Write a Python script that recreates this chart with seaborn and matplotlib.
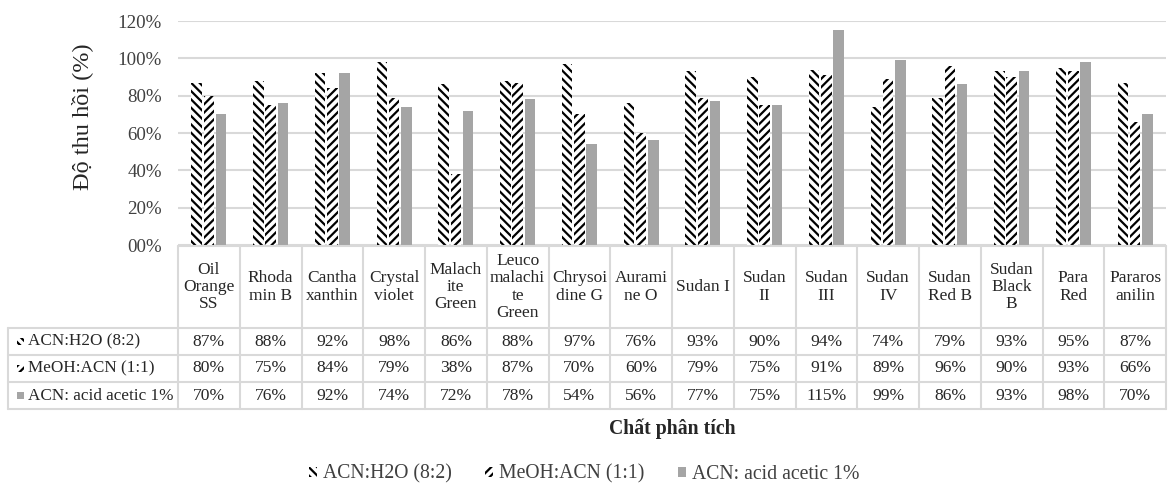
import matplotlib
matplotlib.use("Agg")
import matplotlib.pyplot as plt
from matplotlib.patches import Rectangle, Patch
from matplotlib.ticker import FuncFormatter
import pandas as pd
import seaborn as sns

# Recovery data for 16 dyes under three extraction solvents
categories = ["Oil Orange SS", "Rhodamin B", "Canthaxanthin", "Crystal violet",
              "Malachite Green", "Leucomalachite Green", "Chrysoidine G", "Auramine O",
              "Sudan I", "Sudan II", "Sudan III", "Sudan IV", "Sudan Red B",
              "Sudan Black B", "Para Red", "Pararosanilin"]
header_labels = ["Oil\nOrange\nSS", "Rhoda\nmin B", "Cantha\nxanthin", "Crystal\nviolet",
                 "Malach\nite\nGreen", "Leuco\nmalachi\nte\nGreen", "Chrysoi\ndine G", "Aurami\nne O",
                 "Sudan I", "Sudan\nII", "Sudan\nIII", "Sudan\nIV", "Sudan\nRed B",
                 "Sudan\nBlack\nB", "Para\nRed", "Pararos\nanilin"]
series = ["ACN:H2O (8:2)", "MeOH:ACN (1:1)", "ACN: acid acetic 1%"]
acn_h2o = [87, 88, 92, 98, 86, 88, 97, 76, 93, 90, 94, 74, 79, 93, 95, 87]
meoh_acn = [80, 75, 84, 79, 38, 87, 70, 60, 79, 75, 91, 89, 96, 90, 93, 66]
acn_acetic = [70, 76, 92, 74, 72, 78, 54, 56, 77, 75, 115, 99, 86, 93, 98, 70]
values = [acn_h2o, meoh_acn, acn_acetic]

sns.set_style("white")
plt.rcParams["font.family"] = ["Liberation Serif", "DejaVu Serif"]
plt.rcParams["hatch.linewidth"] = 1.6

df = pd.DataFrame({
    "cat": [c for _ in series for c in categories],
    "series": [s for s in series for _ in categories],
    "val": [v / 100 for vals in values for v in vals],
})

W, H = 1168, 495
fig = plt.figure(figsize=(W / 100, H / 100), dpi=100)
TXT = "#262626"

# plot area in pixel layout
x0, x1 = 178, 1166
y_top, y_base = 21, 245
ax = fig.add_axes([x0 / W, 1 - y_base / H, (x1 - x0) / W, (y_base - y_top) / H])

sns.barplot(data=df, x="cat", y="val", hue="series", order=categories, hue_order=series,
            palette=["white", "white", "#a5a5a5"], saturation=1, width=0.6, gap=0.15,
            legend=False, ax=ax)

styles = [dict(hatch="\\\\\\\\", edgecolor="black", facecolor="white"),
          dict(hatch="////", edgecolor="black", facecolor="white"),
          dict(hatch=None, edgecolor="#a5a5a5", facecolor="#a5a5a5")]
for cont, st in zip(ax.containers, styles):
    for bar in cont:
        bar.set_facecolor(st["facecolor"])
        bar.set_edgecolor(st["edgecolor"])
        bar.set_linewidth(0)
        if st["hatch"]:
            bar.set_hatch(st["hatch"])

ax.set_xlim(-0.5, len(categories) - 0.5)
ax.set_ylim(0, 1.2)
ax.set_yticks([0, 0.2, 0.4, 0.6, 0.8, 1.0, 1.2])
ax.yaxis.set_major_formatter(FuncFormatter(lambda v, p: f"{v * 100:02.0f}%"))
ax.tick_params(axis="y", length=0, labelsize=13.6, labelcolor="#404040", pad=11.5)
ax.set_xticks([])
ax.set_xlabel("")
ax.set_ylabel("")
ax.yaxis.grid(True, color="#d9d9d9", linewidth=1.5)
ax.set_axisbelow(True)
for sp in ax.spines.values():
    sp.set_visible(False)

fig.text(82 / W, 1 - 117 / H, "Độ thu hồi (%)", rotation=90, ha="center", va="center",
         fontsize=17.5, color=TXT)

# data table under the bars
t_left, t_top, t_bottom = 8, 246, 409
col_w = (x1 - x0) / len(categories)
label_w = (x0 - t_left) / col_w
tax = fig.add_axes([t_left / W, 1 - t_bottom / H, (x1 - t_left) / W, (t_bottom - t_top) / H])
tax.set_xlim(-0.5 - label_w, len(categories) - 0.5)
tax.set_ylim(t_bottom - t_top, 0)
tax.axis("off")

grid_c = "#d9d9d9"
head_h = 82
row_h = 27
ys = [0, head_h, head_h + row_h, head_h + 2 * row_h, head_h + 3 * row_h]
xl = -0.5 - label_w
xr = len(categories) - 0.5
tax.plot([-0.5, xr], [0, 0], color=grid_c, lw=1.5, clip_on=False)
for y in ys[1:]:
    tax.plot([xl, xr], [y, y], color=grid_c, lw=1.5, clip_on=False)
tax.plot([xl, xl], [head_h, ys[-1]], color=grid_c, lw=1.5, clip_on=False)
for k in range(len(categories) + 1):
    tax.plot([k - 0.5, k - 0.5], [0, ys[-1]], color=grid_c, lw=1.5, clip_on=False)

for i, lab in enumerate(header_labels):
    tax.text(i, head_h / 2, lab, ha="center", va="center", fontsize=12.5,
             linespacing=1.1, color=TXT)

for r, (name, vals, st) in enumerate(zip(series, values, styles)):
    yc = head_h + row_h * r + row_h / 2
    for i, v in enumerate(vals):
        tax.text(i, yc, f"{v}%", ha="center", va="center", fontsize=12.6, color=TXT)
    mx = xl + 9 / col_w
    tax.add_patch(Rectangle((mx, yc - 3.5), 7 / col_w, 7, facecolor=st["facecolor"],
                            edgecolor=st["edgecolor"], linewidth=0, hatch=st["hatch"],
                            clip_on=False))
    tax.text(xl + 20 / col_w, yc, name, ha="left", va="center", fontsize=12.3, color=TXT)

fig.text(672 / W, 1 - 429 / H, "Chất phân tích", ha="center", va="center",
         fontsize=14.2, fontweight="bold", color=TXT)

handles = [Patch(facecolor=st["facecolor"], edgecolor=st["edgecolor"], linewidth=0,
                 hatch=st["hatch"], label=name) for name, st in zip(series, styles)]
leg = fig.legend(handles=handles, loc="center", bbox_to_anchor=(584 / W, 1 - 474 / H),
                 ncol=3, frameon=False, fontsize=14.2, handlelength=0.4, handleheight=0.4,
                 handletextpad=0.3, columnspacing=1.7)
for t in leg.get_texts():
    t.set_color("#404040")

fig.savefig("out.png", dpi=100)
